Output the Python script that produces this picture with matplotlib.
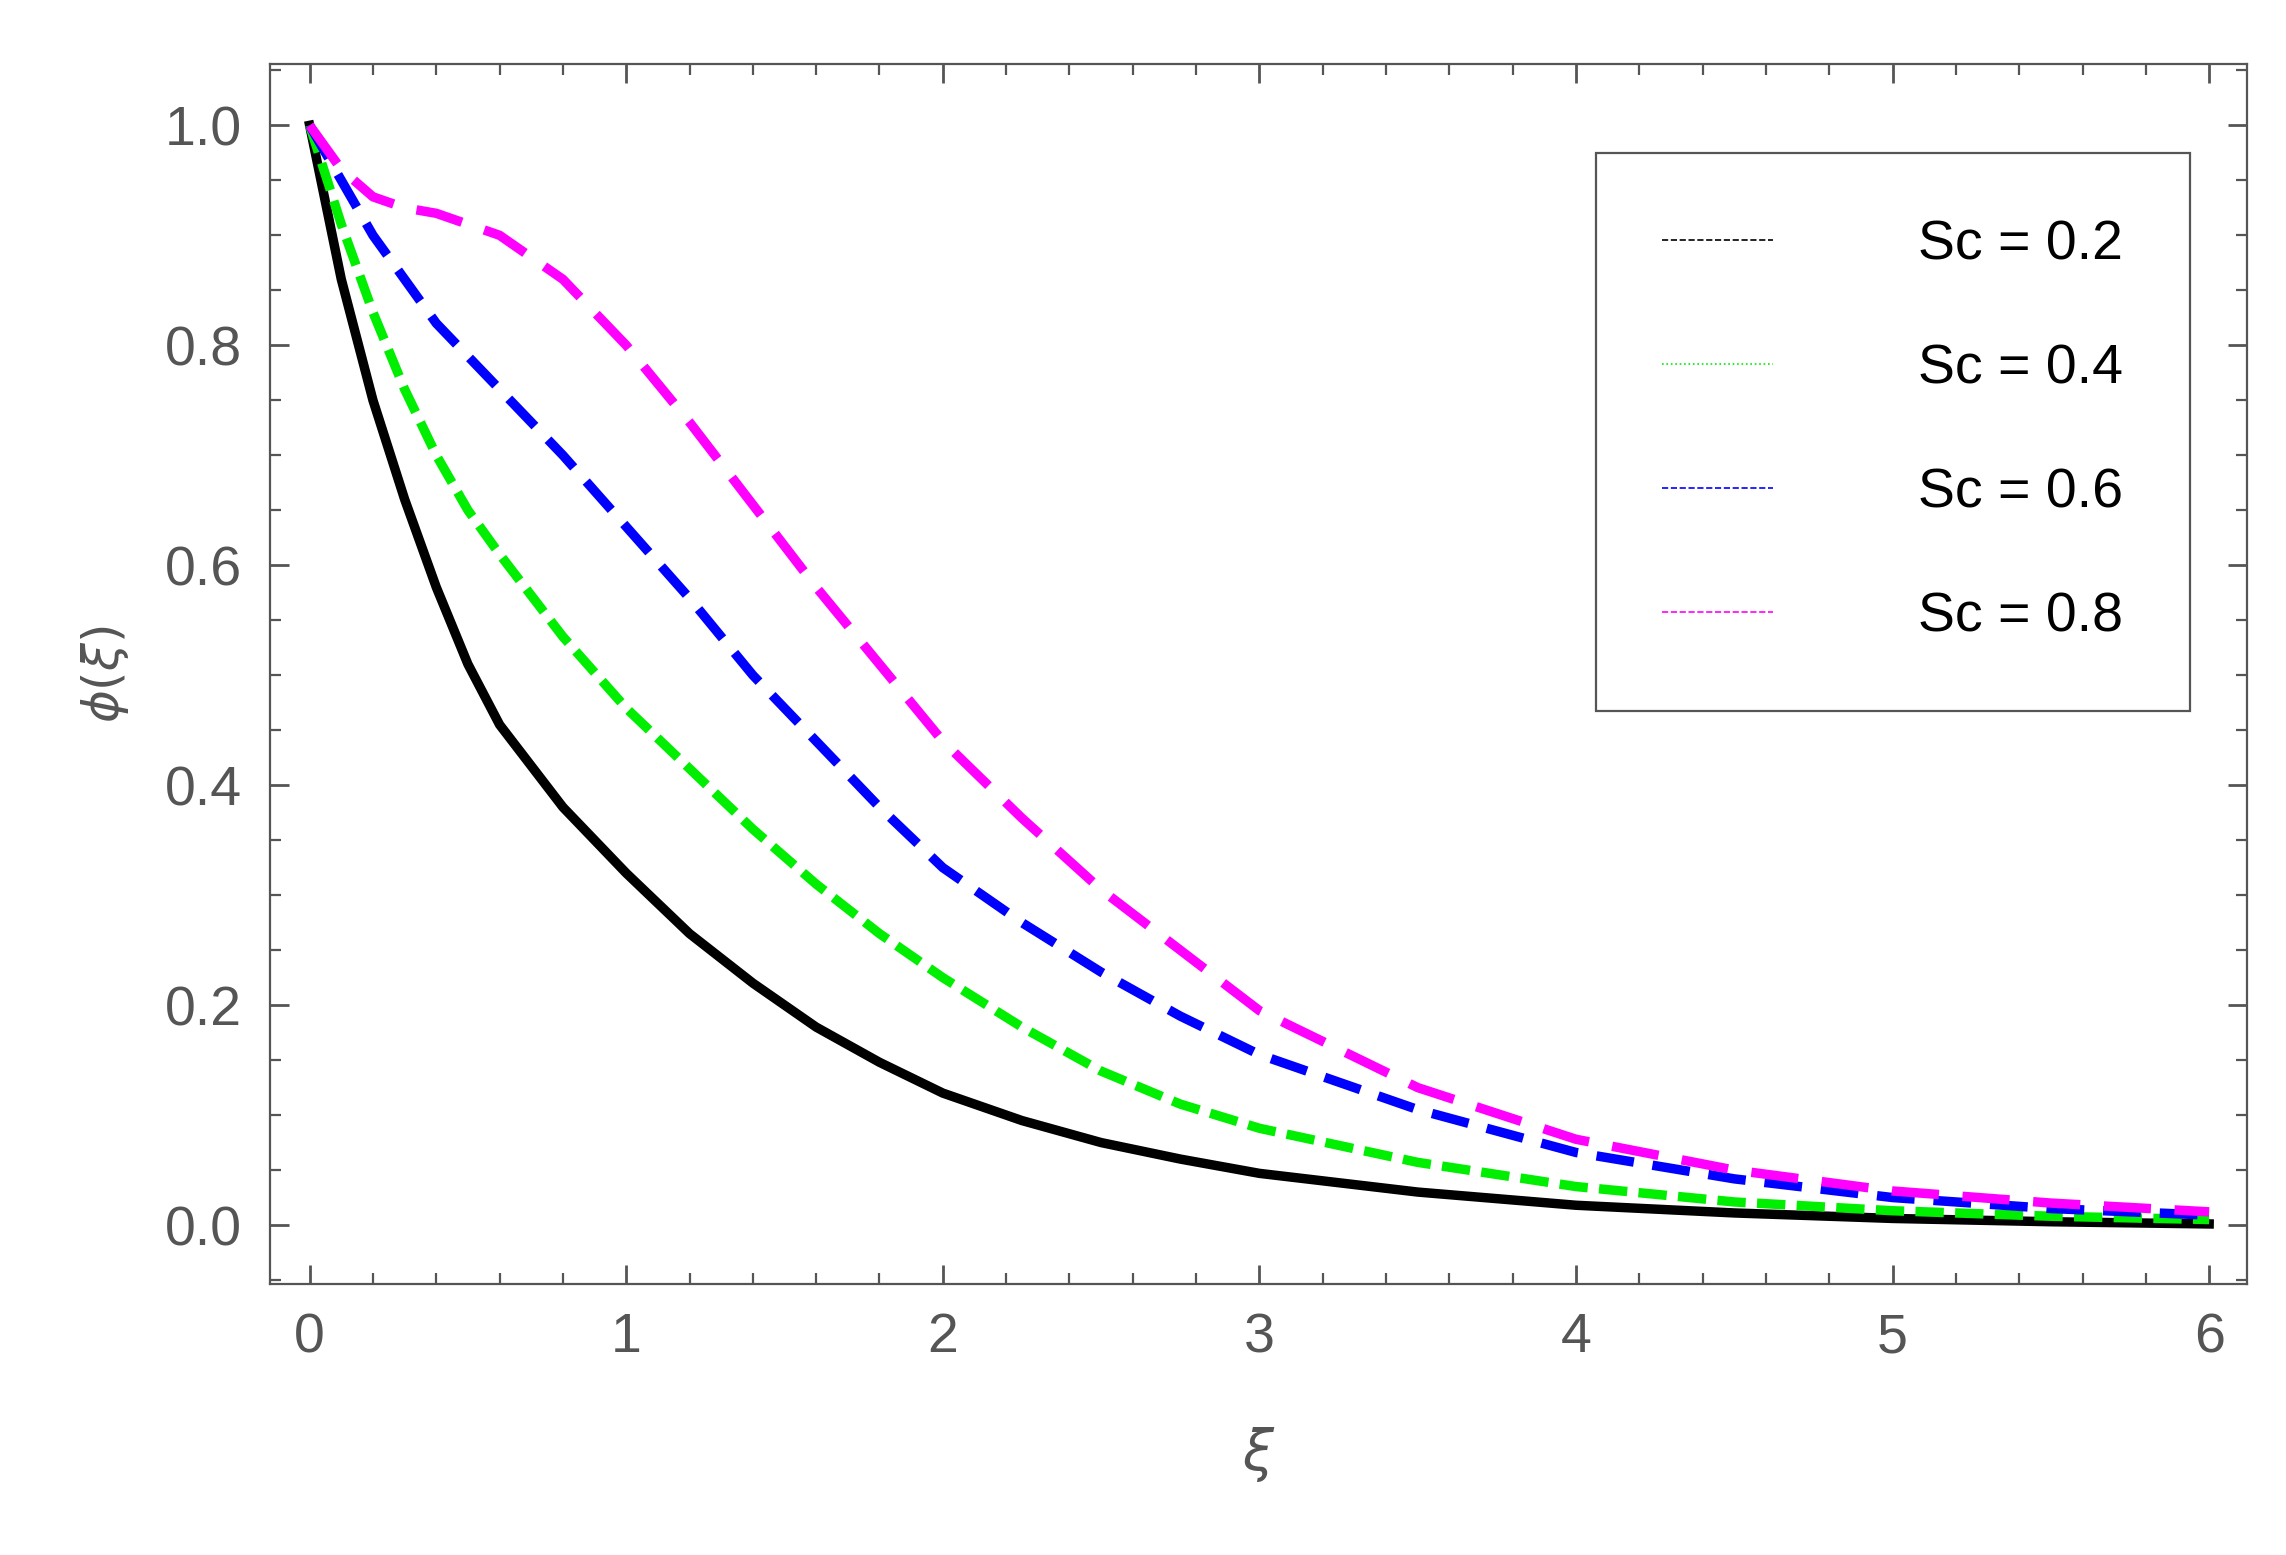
import matplotlib.pyplot as plt
from matplotlib.ticker import MultipleLocator

plt.rcParams['font.family'] = ['Liberation Sans', 'DejaVu Sans']
plt.rcParams['mathtext.fontset'] = 'dejavusans'

# values
xi = [0, 0.1, 0.2, 0.3, 0.4, 0.5, 0.6, 0.8, 1.0, 1.2, 1.4, 1.6, 1.8, 2.0, 2.25, 2.5, 2.75,
      3.0, 3.5, 4.0, 4.5, 5.0, 5.5, 6.0]
phi_02 = [1.0, 0.86, 0.75, 0.66, 0.58, 0.51, 0.455, 0.38, 0.32, 0.265, 0.22, 0.18, 0.148,
          0.12, 0.095, 0.075, 0.06, 0.047, 0.03, 0.018, 0.011, 0.006, 0.003, 0.001]
phi_04 = [1.0, 0.91, 0.83, 0.76, 0.70, 0.65, 0.61, 0.535, 0.47, 0.415, 0.36, 0.31, 0.265,
          0.225, 0.18, 0.14, 0.11, 0.088, 0.057, 0.035, 0.021, 0.013, 0.008, 0.005]
phi_06 = [1.0, 0.95, 0.90, 0.86, 0.82, 0.79, 0.76, 0.70, 0.635, 0.57, 0.50, 0.44, 0.38,
          0.325, 0.275, 0.23, 0.19, 0.155, 0.105, 0.066, 0.042, 0.025, 0.015, 0.009]
phi_08 = [1.0, 0.96, 0.935, 0.925, 0.92, 0.91, 0.90, 0.86, 0.80, 0.73, 0.655, 0.58, 0.51,
          0.44, 0.37, 0.305, 0.25, 0.195, 0.125, 0.078, 0.05, 0.031, 0.02, 0.012]
labels = ['Sc = 0.2', 'Sc = 0.4', 'Sc = 0.6', 'Sc = 0.8']

fig = plt.figure(figsize=(11.43, 7.775), dpi=200)
ax = fig.add_axes([0.118, 0.174, 0.865, 0.785])

ax.plot(xi, phi_02, color='black', lw=3.4)
ax.plot(xi, phi_04, color='#00ee00', lw=3.4, dashes=(3, 1.2))
ax.plot(xi, phi_06, color='blue', lw=3.4, dashes=(4, 2))
ax.plot(xi, phi_08, color='magenta', lw=3.4, dashes=(5, 2.5))

ax.set_xlim(-0.126, 6.12)
ax.set_ylim(-0.054, 1.056)
ax.xaxis.set_major_locator(MultipleLocator(1))
ax.xaxis.set_minor_locator(MultipleLocator(0.2))
ax.yaxis.set_major_locator(MultipleLocator(0.2))
ax.yaxis.set_minor_locator(MultipleLocator(0.05))
ax.tick_params(which='both', direction='in', top=True, right=True, color='#555555')
ax.tick_params(which='major', length=7, width=1, labelsize=20, labelcolor='#555555', pad=10)
ax.tick_params(which='minor', length=4, width=0.8)
for s in ax.spines.values():
    s.set_color('#555555')

ax.set_xlabel(r'$\xi$', fontsize=20, color='#555555', labelpad=22)
ax.set_ylabel(r'$\phi(\xi)$', fontsize=18, color='#555555', labelpad=12)

leg = ax.legend(
    [plt.Line2D([], [], color='black', lw=0.6, ls='--'),
     plt.Line2D([], [], color='#00ee00', lw=0.6, ls=':'),
     plt.Line2D([], [], color='blue', lw=0.6, ls='--'),
     plt.Line2D([], [], color='magenta', lw=0.6, ls='--')],
    labels, loc='upper right', bbox_to_anchor=(0.985, 0.95), fontsize=20,
    fancybox=False, edgecolor='#555555', framealpha=1, handlelength=2.0,
    handletextpad=2.6, labelspacing=1.3, borderpad=1.2)
leg.get_frame().set_linewidth(0.8)

fig.savefig('out.png')
